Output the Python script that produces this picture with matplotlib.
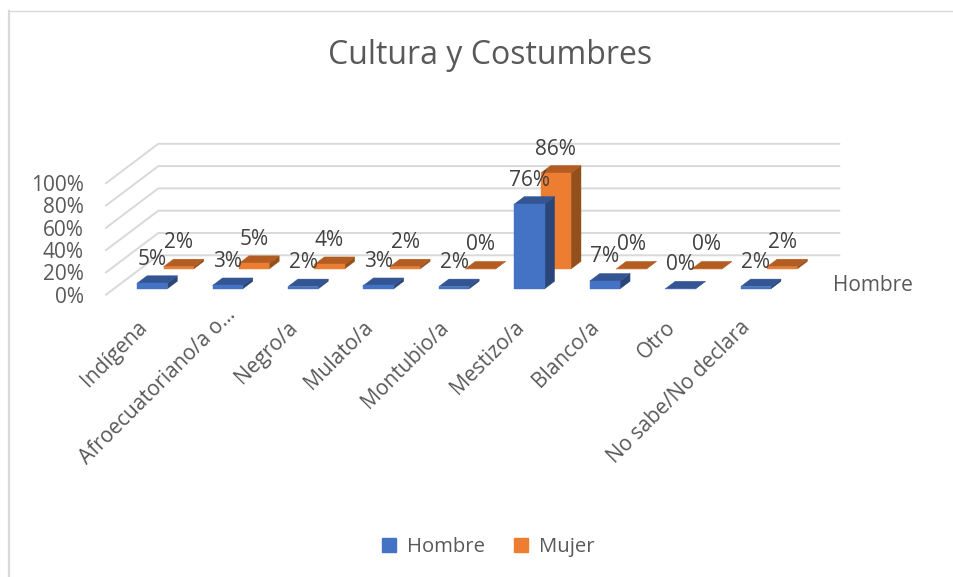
import matplotlib
matplotlib.use("Agg")
import matplotlib.pyplot as plt
from matplotlib.lines import Line2D
from matplotlib.patches import Polygon, Rectangle
from matplotlib.transforms import ScaledTranslation

plt.rcParams["font.family"] = ["Open Sans", "DejaVu Sans"]

categories = ["Indígena", "Afroecuatoriano/a o…", "Negro/a", "Mulato/a", "Montubio/a",
              "Mestizo/a", "Blanco/a", "Otro", "No sabe/No declara"]
hombre = [5, 3, 2, 3, 2, 76, 7, 0, 2]
mujer = [2, 5, 4, 2, 0, 86, 0, 0, 2]
y_ticks = [0, 20, 40, 60, 80, 100]

W, H = 954, 577
TEXT = "#595959"
GRID = "#d9d9d9"
FS = 15

# plot box in pixels: 1 category = 75.45 px, 100% = 111.5 px
PX_CAT = 75.45
PX_PCT = 1.115
LEFT = 106.0
BASE = 294.7
RIGHT_BACK = 839.3
DEPTH_X = 52.3 / PX_CAT
DEPTH_Y = 39.4 / PX_PCT

fig = plt.figure(figsize=(W / 100, H / 100), dpi=100)
# chart border, only top and left are inside the crop
fig.add_artist(Line2D([9.5 / W, 9.5 / W], [0, 1 - 10.5 / H], color=GRID, lw=1.6))
fig.add_artist(Line2D([9 / W, 1], [1 - 10.8 / H, 1 - 10.8 / H], color=GRID, lw=1.0))

ax_w = RIGHT_BACK - LEFT
ax = fig.add_axes([LEFT / W, 1 - BASE / H, ax_w / W, 111.5 / H])
ax.set_xlim(-0.5, -0.5 + ax_w / PX_CAT)
ax.set_ylim(0, 100)
ax.patch.set_alpha(0)
for s in ax.spines.values():
    s.set_visible(False)


def project(x, val, depth):
    # oblique view: depth 0 is the front of the floor, 1 the back wall
    return x + depth * DEPTH_X, val + depth * DEPTH_Y


# gridlines: side wall then back wall
x0 = -0.5
x1 = -0.5 + ax_w / PX_CAT
for v in y_ticks:
    p = [project(x0, v, 0), project(x0, v, 1), (x1, v + DEPTH_Y)]
    ax.plot(*zip(*p), color=GRID, lw=1.4, clip_on=False, zorder=1, solid_joinstyle="miter")


def bar3d(x, val, d0, d1, width, front, top, side, z):
    xl, xr = x - width / 2, x + width / 2
    f = [project(xl, 0, d0), project(xr, 0, d0), project(xr, val, d0), project(xl, val, d0)]
    t = [project(xl, val, d0), project(xr, val, d0), project(xr, val, d1), project(xl, val, d1)]
    s = [project(xr, 0, d0), project(xr, 0, d1), project(xr, val, d1), project(xr, val, d0)]
    for pts, c in ((s, side), (t, top), (f, front)):
        ax.add_patch(Polygon(pts, closed=True, facecolor=c, edgecolor=c, lw=0.3, clip_on=False, zorder=z))


BAR_W = 30.3 / PX_CAT
FIRST = -0.5 + (144.4 - LEFT) / PX_CAT  # category centre on the floor front
LABEL_UP = 24 / PX_PCT
for i, (h, m) in enumerate(zip(hombre, mujer)):
    x = FIRST + i
    bar3d(x, m, 0.655, 0.845, BAR_W, "#ed7d31", "#b35d22", "#93501c", 3)
    bar3d(x, h, 0.15, 0.34, BAR_W, "#4472c4", "#335593", "#2a4679", 4)
    px, py = project(x, h, 0.15)
    ax.text(px, py + LABEL_UP, f"{h}%", ha="center", va="center", fontsize=FS, color="#404040",
            clip_on=False, zorder=6)
    px, py = project(x, m, 0.655)
    ax.text(px, py + LABEL_UP, f"{m}%", ha="center", va="center", fontsize=FS, color="#404040",
            clip_on=False, zorder=6)

ax.set_yticks(y_ticks)
ax.set_yticklabels([f"{v}%" for v in y_ticks], fontsize=FS, color=TEXT)
# labels hang a little left of the bars
ax.set_xticks([FIRST + i - 8 / PX_CAT for i in range(len(categories))])
ax.set_xticklabels(categories, rotation=45, ha="right", rotation_mode="anchor", fontsize=FS, color=TEXT)
ax.tick_params(axis="both", length=0)
ax.tick_params(axis="y", pad=16)
ax.tick_params(axis="x", pad=16)

# the cut-off label sits further up its own diagonal
long_label = ax.get_xticklabels()[1]
long_label.set_transform(long_label.get_transform() + ScaledTranslation(0.13, 0.13, fig.dpi_scale_trans))

fig.text(490 / W, 1 - 56 / H, "Cultura y Costumbres", ha="center", va="center", fontsize=23, color=TEXT)
fig.text(873 / W, 1 - 285 / H, "Hombre", ha="center", va="center", fontsize=FS, color=TEXT)

# legend
handles = [Rectangle((0, 0), 1, 1, color="#4472c4"), Rectangle((0, 0), 1, 1, color="#ed7d31")]
fig.legend(handles, ["Hombre", "Mujer"], loc="center", bbox_to_anchor=(488.3 / W, 1 - 547 / H), ncol=2,
           frameon=False, fontsize=14.6, labelcolor=TEXT, handlelength=0.69, handleheight=0.69,
           handletextpad=0.58, columnspacing=1.4)

fig.savefig("out.png", dpi=100)
